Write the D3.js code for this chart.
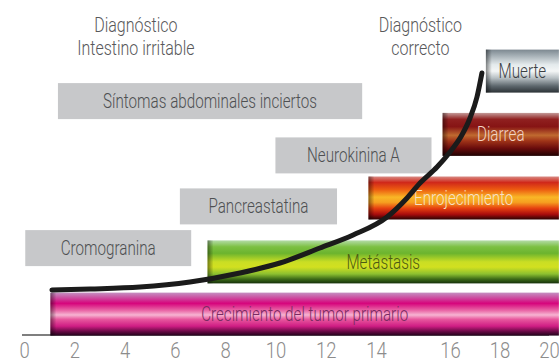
<!DOCTYPE html>
<html>
<head>
<meta charset="utf-8">
<script src="https://cdn.jsdelivr.net/npm/d3@7/dist/d3.min.js"></script>
<style>
  html, body { margin: 0; padding: 0; background: #fff; }
  svg { display: block; }
  text { font-family: Roboto, "Liberation Sans", sans-serif; font-weight: 300; }
</style>
</head>
<body>
<svg id="chart" width="559" height="362"></svg>
<script>
// Time axis (years) tick labels
const tickValues = [0, 2, 4, 6, 8, 10, 12, 14, 16, 18, 20];

// Clinical manifestations (coloured bars): start / end along the time axis, stage level
const barNames = ["Crecimiento del tumor primario", "Metástasis", "Enrojecimiento", "Diarrea", "Muerte"];
const barStart = [1.05, 7.3, 13.7, 15.8, 17.45];
const barEnd   = [20.4, 20.4, 20.4, 20.4, 20.4];
const barLevel = [7.3, 24.7, 46, 67.2, 88.3];

// Markers / symptoms (grey boxes)
const boxNames = ["Cromogranina", "Pancreastatina", "Neurokinina A", "Síntomas abdominales inciertos"];
const boxStart = [0.05, 6.2, 10.0, 1.35];
const boxEnd   = [6.65, 12.45, 15.5, 13.45];
const boxLevel = [29.3, 43.2, 60.2, 78.3];

// Disease progression curve
const curveTime  = [1.11, 2.63, 4.61, 6.6, 8.59, 10.18, 11.77, 13.09, 14.3, 14.84, 15.19, 15.65, 16.0, 16.48, 16.81, 17.09, 17.29];
const curveLevel = [15.33, 15.67, 16.33, 18, 21, 24.33, 29.33, 33.67, 39.67, 46, 51, 56.33, 61.33, 67, 72.67, 79.67, 87.67];

// Diagnosis headings
const headingLines = [["Diagnóstico", "Intestino irritable"], ["Diagnóstico", "correcto"]];
const headingTime  = [4.45, 15.2];

// Vertical gradient stops for each bar
const barGradients = [
  [[0, "#c590c2"], [0.12, "#cc4ea0"], [0.25, "#d6047c"], [0.42, "#ea6aa8"], [0.52, "#f7b4d2"], [0.62, "#e8589e"], [0.78, "#d01d84"], [0.9, "#6a0a46"], [1, "#22021a"]],
  [[0, "#b4dca8"], [0.15, "#7cc042"], [0.3, "#6cb42e"], [0.5, "#cade24"], [0.62, "#d2e020"], [0.78, "#8cc030"], [0.9, "#3c6a18"], [1, "#16300a"]],
  [[0, "#d88a84"], [0.14, "#d0281a"], [0.3, "#ec5a10"], [0.48, "#f9b626"], [0.6, "#f6a020"], [0.74, "#e64010"], [0.88, "#a80c0c"], [1, "#2a0202"]],
  [[0, "#c49a98"], [0.15, "#902020"], [0.32, "#861414"], [0.52, "#c06a30"], [0.65, "#a03418"], [0.82, "#6a0c0c"], [1, "#200202"]],
  [[0, "#7c8890"], [0.15, "#a8b2b8"], [0.35, "#e4eaec"], [0.5, "#f4f6f6"], [0.66, "#b8c0c4"], [0.85, "#5c666c"], [1, "#2c3236"]]
];
const barTextColor = ["#7a2a62", "#4c5a14", "#f6e2c6", "#f2d4c4", "#3c4044"];

const svg = d3.select("#chart");

// Piecewise time scale (the 14–16 interval is drawn wider)
const x = d3.scaleLinear().domain([0, 14, 16, 20]).range([24, 376, 450, 549]);
const y = d3.scaleLinear().domain([0, 100]).range([336, 36]);

const BAR_H = 43;
const BOX_H = 36;
const NARROW = 0.76;   // horizontal condensing applied to labels

// Place a condensed text at (px, py)
function condensed(sel, px, py, k = NARROW) {
  sel.attr("transform", (d, i) => `translate(${px(d, i)},${py(d, i)}) scale(${k},1)`);
}

const defs = svg.append("defs");
barGradients.forEach((stops, i) => {
  const g = defs.append("linearGradient").attr("id", "bar-grad-" + i)
    .attr("x1", 0).attr("y1", 0).attr("x2", 0).attr("y2", 1);
  stops.forEach(s => g.append("stop").attr("offset", s[0]).attr("stop-color", s[1]));
});
const edge = defs.append("linearGradient").attr("id", "edge-shade")
  .attr("x1", 0).attr("y1", 0).attr("x2", 1).attr("y2", 0);
edge.append("stop").attr("offset", 0).attr("stop-color", "#000").attr("stop-opacity", 0.45);
edge.append("stop").attr("offset", 1).attr("stop-color", "#000").attr("stop-opacity", 0);

// Axis baseline and tick labels
svg.append("line")
  .attr("x1", x(0) - 2).attr("x2", x(20))
  .attr("y1", y(0) - 1).attr("y2", y(0) - 1)
  .attr("stroke", "#555").attr("stroke-width", 1.6);

const axis = svg.append("g")
  .attr("transform", `translate(0,${y(0)})`)
  .call(d3.axisBottom(x).tickValues(tickValues).tickSize(0).tickFormat(d3.format("d")));
axis.select(".domain").remove();
axis.selectAll("text")
  .attr("y", null).attr("dy", null)
  .attr("transform", "translate(0,22) scale(0.84,1)")
  .attr("fill", "#8c8c8c")
  .style("font-size", "22px");

// Grey marker boxes
const boxes = svg.append("g").selectAll("g").data(boxNames).join("g");
boxes.append("rect")
  .attr("x", (d, i) => x(boxStart[i]))
  .attr("y", (d, i) => y(boxLevel[i]) - BOX_H / 2)
  .attr("width", (d, i) => x(boxEnd[i]) - x(boxStart[i]))
  .attr("height", BOX_H)
  .attr("fill", "#c7c8ca");
boxes.append("text")
  .call(condensed, (d, i) => (x(boxStart[i]) + x(boxEnd[i])) / 2, (d, i) => y(boxLevel[i]))
  .attr("dy", "0.35em")
  .attr("text-anchor", "middle")
  .attr("fill", "#4e5052")
  .style("font-size", "20px")
  .text(d => d);

// Coloured manifestation bars
const bars = svg.append("g").selectAll("g").data(barNames).join("g");
bars.append("rect")
  .attr("x", (d, i) => x(barStart[i]))
  .attr("y", (d, i) => y(barLevel[i]) - BAR_H / 2)
  .attr("width", (d, i) => x(barEnd[i]) - x(barStart[i]))
  .attr("height", BAR_H)
  .attr("fill", (d, i) => `url(#bar-grad-${i})`);
bars.append("rect")
  .attr("x", (d, i) => x(barStart[i]))
  .attr("y", (d, i) => y(barLevel[i]) - BAR_H / 2)
  .attr("width", 6)
  .attr("height", BAR_H)
  .attr("fill", "url(#edge-shade)");
bars.append("text")
  .call(condensed, (d, i) => (x(barStart[i]) + x(barEnd[i])) / 2, (d, i) => y(barLevel[i]))
  .attr("dy", "0.35em")
  .attr("text-anchor", "middle")
  .attr("fill", (d, i) => barTextColor[i])
  .style("font-size", "20px")
  .text(d => d);

// Progression curve
const pts = curveTime.map((t, i) => [t, curveLevel[i]]);
svg.append("path")
  .datum(pts)
  .attr("fill", "none")
  .attr("stroke", "#1b1b1b")
  .attr("stroke-width", 5)
  .attr("stroke-linecap", "round")
  .attr("d", d3.line().x(d => x(d[0])).y(d => y(d[1])).curve(d3.curveMonotoneX));

// Diagnosis headings (two lines each)
const heads = svg.append("g").selectAll("text").data(headingLines).join("text")
  .attr("transform", (d, i) => `translate(${x(headingTime[i])},0) scale(0.8,1)`)
  .attr("text-anchor", "middle")
  .attr("fill", "#58585a")
  .style("font-size", "20px");
heads.selectAll("tspan").data(d => d).join("tspan")
  .attr("x", 0)
  .attr("y", (d, j) => 32 + j * 23.5)
  .text(d => d);
</script>
</body>
</html>
